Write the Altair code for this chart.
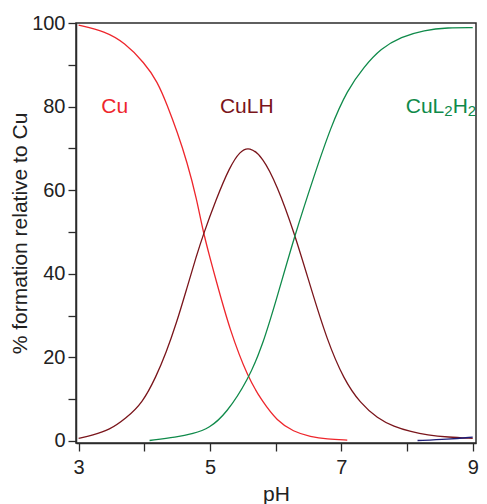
import altair as alt
import pandas as pd

# ---- data ----
cu_ph = [3.0, 3.4, 3.7, 4.0, 4.2, 4.35, 4.5, 4.65, 4.8, 4.9, 5.1, 5.3, 5.58, 5.8, 6.02, 6.27,
         6.53, 6.78, 7.09]
cu_val = [99.5, 98, 95.3, 90.5, 86, 80.3, 74, 66.8, 57.8, 49.5, 38, 26.6, 15, 9.4, 4.8, 2.2,
          1.0, 0.4, 0.2]

culh_ph = [3.0, 3.21, 3.47, 3.72, 3.97, 4.18, 4.33, 4.49, 4.64, 4.79, 4.9, 5.09, 5.3, 5.46, 5.6,
           5.8, 6.02, 6.28, 6.53, 6.78, 7.04, 7.29, 7.55, 7.8, 8.06, 8.31, 8.62, 9.0]
culh_val = [0.6, 1.4, 2.6, 5.4, 9.0, 15.4, 21, 28.2, 36.1, 44.1, 49.5, 57.7, 65.6, 69.4, 70.4,
            68.0, 61.2, 50, 36.9, 24.2, 14.6, 9.0, 5.4, 3.4, 2.2, 1.4, 0.9, 0.6]

cul2h2_ph = [4.08, 4.49, 4.74, 4.99, 5.25, 5.58, 5.8, 6.02, 6.3, 6.58, 6.84, 7.09, 7.35, 7.6,
             7.91, 8.26, 8.62, 9.0]
cul2h2_val = [0.1, 0.9, 1.7, 3.0, 6.6, 14.6, 22.8, 34.3, 49.7, 63.2, 75.2, 84, 89.6, 93.9,
              96.7, 98.3, 98.9, 98.9]

minor_ph = [8.16, 8.62, 9.0]
minor_val = [0.1, 0.4, 0.9]

series_names = ["Cu", "CuLH", "CuL2H2", "other"]
colors = ["#ee262c", "#7a151b", "#0f8a4a", "#1e1e78"]

rows = []
for name, xs, ys in zip(series_names,
                        [cu_ph, culh_ph, cul2h2_ph, minor_ph],
                        [cu_val, culh_val, cul2h2_val, minor_val]):
    for i, (a, b) in enumerate(zip(xs, ys)):
        rows.append({"series": name, "pH": a, "pct": b, "order": i})
df = pd.DataFrame(rows)

FONT = "Liberation Sans"

x_scale = alt.Scale(domain=[2.96, 9.05], nice=False, zero=False)
y_scale = alt.Scale(domain=[-0.5, 100], nice=False, zero=False)
color_scale = alt.Scale(domain=series_names, range=colors)

lines = alt.Chart(df).mark_line(strokeWidth=1.3, interpolate="basis").encode(
    x=alt.X("pH:Q", scale=x_scale,
            axis=alt.Axis(values=[3, 4, 5, 6, 7, 8, 9], title="pH", format="d",
                          labelExpr="datum.value % 2 == 1 ? datum.label : ''",
                          grid=False, tickSize=8, labelPadding=6,
                          titleBaseline="alphabetic", titleY=57)),
    y=alt.Y("pct:Q", scale=y_scale,
            axis=alt.Axis(values=[0, 10, 20, 30, 40, 50, 60, 70, 80, 90, 100],
                          title="% formation relative to Cu", format="d",
                          labelExpr="datum.value % 20 == 0 ? datum.label : ''",
                          grid=False, tickSize=8, labelPadding=3,
                          titleBaseline="alphabetic", titleX=-50)),
    color=alt.Color("series:N", scale=color_scale, legend=None),
    detail="series:N",
    order="order:Q",
)

# labels
lab_text = ["Cu", "CuLH"]
lab_x = [3.55, 5.56]
lab_y = [79.9, 79.9]
lab_col = ["#ee262c", "#7a151b"]
lab_df = pd.DataFrame({"t": lab_text, "x": lab_x, "y": lab_y, "c": lab_col})
labels = alt.Chart(lab_df).mark_text(font=FONT, fontSize=21, align="center", baseline="middle").encode(
    x=alt.X("x:Q", scale=x_scale), y=alt.Y("y:Q", scale=y_scale),
    text="t:N", color=alt.Color("c:N", scale=None))

green = "#0f8a4a"
gx, gy = 7.98, 79.9
parts = [("CuL", 21, 0, 0), ("2", 15, 38.5, 4), ("H", 21, 47, 0), ("2", 15, 62, 4)]
sub_layers = []
for txt, fs, dx, dy in parts:
    sub_layers.append(
        alt.Chart(pd.DataFrame({"x": [gx], "y": [gy], "t": [txt]})).mark_text(
            font=FONT, fontSize=fs, align="left", baseline="middle", dx=dx, dy=dy, color=green
        ).encode(x=alt.X("x:Q", scale=x_scale), y=alt.Y("y:Q", scale=y_scale), text="t:N")
    )

chart = alt.layer(lines, labels, *sub_layers).properties(
    width=400, height=420,
    autosize=alt.AutoSizeParams(type="none"),
    padding={"left": 68, "top": 15, "right": 3, "bottom": 61},
).configure_view(
    stroke="#2b2b2b", strokeWidth=1.5
).configure_axis(
    domainColor="#2b2b2b", domainWidth=1.5, tickColor="#2b2b2b", tickWidth=1.3,
    labelFont=FONT, labelFontSize=20, labelColor="#222222",
    titleFont=FONT, titleFontSize=21, titleFontWeight="normal", titleColor="#222222",
)

chart.save("out.html", embed_options={"renderer": "svg", "actions": False})
